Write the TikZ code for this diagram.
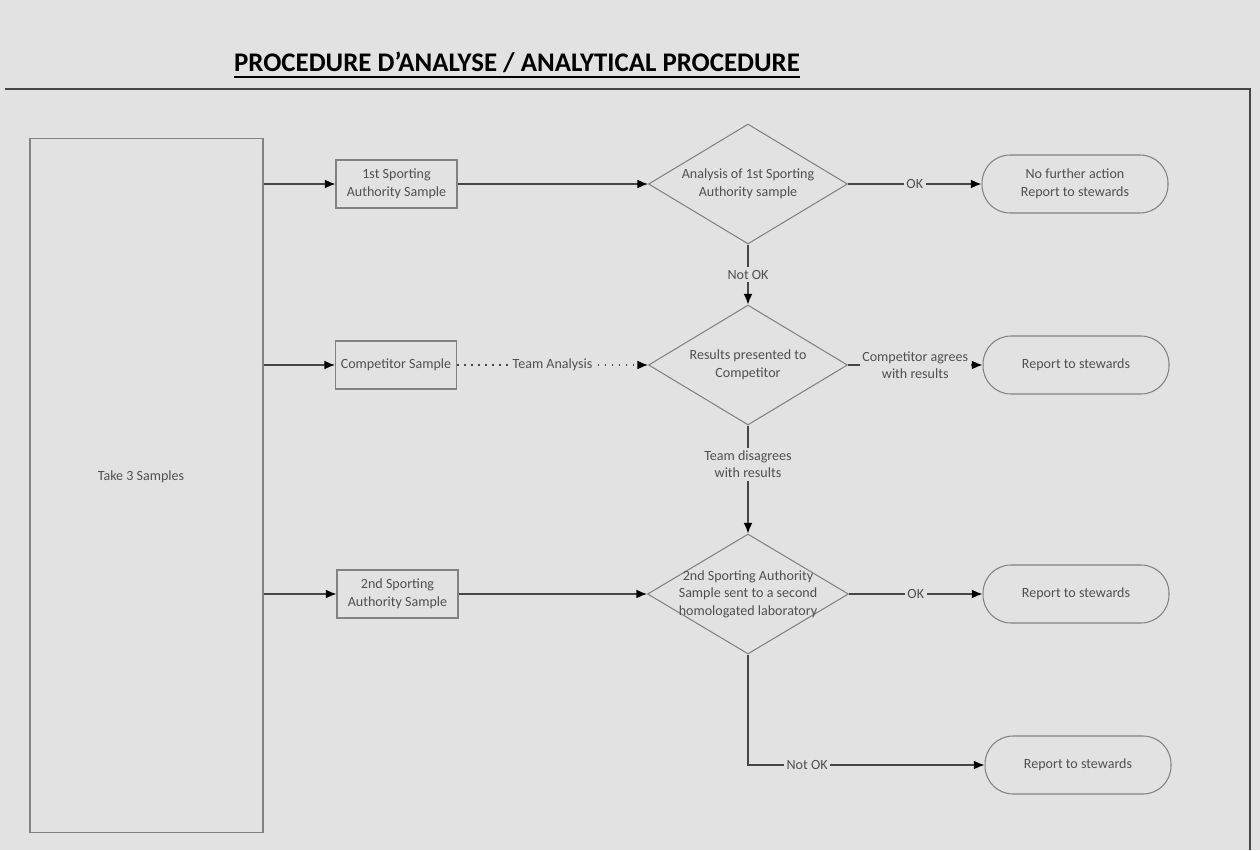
\documentclass[tikz,border=0pt]{standalone}
\usepackage{fontspec}
\setmainfont{Carlito}
\usetikzlibrary{shapes.geometric,arrows.meta}
\definecolor{paper}{RGB}{226,226,226}
\definecolor{edge}{RGB}{130,130,130}
\definecolor{txt}{RGB}{80,80,80}
\definecolor{conn}{RGB}{70,70,70}
\begin{document}
\begin{tikzpicture}[x=0.02cm,y=-0.02cm,
  every node/.style={font=\fontsize{8}{10}\selectfont, text=txt},
  procbox/.style={draw=edge, line width=0.6pt, minimum width=2.42cm, minimum height=0.96cm, align=center, inner sep=1pt},
  decision/.style={diamond, draw=edge, line width=0.6pt, minimum width=3.98cm, minimum height=2.4cm, inner sep=0pt},
  terminal/.style={draw=edge, line width=0.6pt, rounded corners=0.56cm, minimum width=3.72cm, minimum height=1.16cm, align=center},
  arr/.style={draw=conn, line width=0.8pt, -{Latex[length=6pt,width=5pt,color=black]}},
  lbl/.style={fill=paper, inner sep=1.5pt, align=center}
]
\fill[paper] (0,0) rectangle (1260,850);
\draw[conn, line width=1pt] (5,89) -- (1250,89) -- (1250,850);

\node[font=\fontsize{15.3}{18}\selectfont\bfseries, text=black, inner sep=0pt] (title) at (517,62) {PROCEDURE D’ANALYSE / ANALYTICAL PROCEDURE};
\draw[black, line width=1.2pt] (title.south west) ++(0,4) coordinate (ul1) -- (ul1 -| title.south east);

\node[draw=edge, line width=0.6pt, minimum width=4.66cm, minimum height=13.9cm] (take) at (146.5,485.5) {};
\node (taketext) at (141,477) {Take 3 Samples};

\node[procbox] (b1) at (396.5,184) {1st Sporting\\Authority Sample};
\node[procbox] (b2) at (396,365) {Competitor Sample};
\node[procbox] (b3) at (397.5,594) {2nd Sporting\\Authority Sample};

\node[decision, label={[align=center]center:{Analysis of 1st Sporting\\Authority sample}}] (d1) at (748,184) {};
\node[decision, label={[align=center]center:{Results presented to\\Competitor}}] (d2) at (748,365) {};
\node[decision, minimum width=4.02cm, label={[align=center]center:{2nd Sporting Authority\\Sample sent to a second\\homologated laboratory}}] (d3) at (748,594) {};

\node[terminal] (t1) at (1075,184) {No further action\\Report to stewards};
\node[terminal] (t2) at (1076,365) {Report to stewards};
\node[terminal] (t3) at (1076,594) {Report to stewards};
\node[terminal] (t4) at (1078,765) {Report to stewards};

\draw[arr] (take.east |- b1) -- (b1.west);
\draw[arr] (take.east |- b2) -- (b2.west);
\draw[arr] (take.east |- b3) -- (b3.west);

\draw[arr] (b1.east) -- (d1.west);
\draw[arr, dash pattern=on 1pt off 3pt] (b2.east) -- node[lbl]{Team Analysis} (d2.west);
\draw[arr] (b3.east) -- (d3.west);

\draw[arr] (d1.east) -- node[lbl]{OK} (t1.west);
\draw[arr] (d1.south) -- node[lbl]{Not OK} (d2.north);
\draw[arr] (d2.east) -- node[lbl]{Competitor agrees\\with results} (t2.west);
\draw[arr] (d2.south) -- node[lbl, pos=0.36]{Team disagrees\\with results} (d3.north);
\draw[arr] (d3.east) -- node[lbl]{OK} (t3.west);
\draw[arr] (d3.south) |- node[lbl, pos=0.625]{Not OK} (t4.west);
\end{tikzpicture}
\end{document}
